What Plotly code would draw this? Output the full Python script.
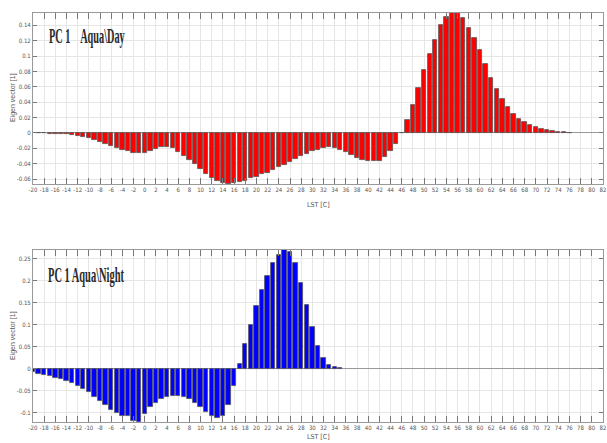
import plotly.graph_objects as go

# ---- Data ----
day_lst = list(range(-19, 77))
day_vals = [
    0.0, -0.0005, -0.001, -0.001, -0.0015, -0.002, -0.003, -0.004, -0.0055, -0.007,   # -19..-10
    -0.009, -0.012, -0.014, -0.017, -0.020, -0.022, -0.024, -0.026, -0.026, -0.026,   # -9..0
    -0.0235, -0.021, -0.019, -0.019, -0.020, -0.025, -0.0295, -0.035, -0.041, -0.047, # 1..10
    -0.053, -0.059, -0.063, -0.065, -0.0665, -0.065, -0.064, -0.062, -0.059, -0.057,  # 11..20
    -0.054, -0.052, -0.048, -0.045, -0.042, -0.0385, -0.034, -0.030, -0.027, -0.024,  # 21..30
    -0.022, -0.020, -0.019, -0.020, -0.0225, -0.0255, -0.029, -0.0325, -0.035, -0.0365, # 31..40
    -0.037, -0.036, -0.032, -0.024, -0.014, 0.0, 0.017, 0.0365, 0.058, 0.082,          # 41..50
    0.103, 0.121, 0.140, 0.151, 0.158, 0.157, 0.150, 0.136, 0.124, 0.108,              # 51..60
    0.089, 0.072, 0.057, 0.044, 0.0335, 0.025, 0.0187, 0.014, 0.010, 0.0074,           # 61..70
    0.0052, 0.0035, 0.002, 0.0013, 0.0009, 0.0004,                                     # 71..76
]

night_lst = list(range(-20, 36))
night_vals = [
    -0.008, -0.011, -0.014, -0.0167, -0.0197, -0.023, -0.0265, -0.031, -0.038, -0.045,  # -20..-11
    -0.053, -0.063, -0.073, -0.083, -0.094, -0.101, -0.106, -0.106, -0.118, -0.122,     # -10..-1
    -0.103, -0.087, -0.077, -0.068, -0.064, -0.061, -0.061, -0.064, -0.069, -0.0765,    # 0..9
    -0.087, -0.098, -0.107, -0.111, -0.106, -0.083, -0.038, 0.0106, 0.056, 0.100,       # 10..19
    0.1417, 0.179, 0.211, 0.240, 0.258, 0.272, 0.266, 0.240, 0.196, 0.144,              # 20..29
    0.0947, 0.052, 0.025, 0.009, 0.004, 0.001,                                          # 30..35
]

x_ticks = list(range(-20, 83, 2))
x_ticktext = [str(v) for v in x_ticks]

day_yticks = [-0.06, -0.04, -0.02, 0, 0.02, 0.04, 0.06, 0.08, 0.1, 0.12, 0.14]
day_yticktext = ["-0.06", "-0.04", "-0.02", "0", "0.02", "0.04", "0.06", "0.08", "0.1", "0.12", "0.14"]
night_yticks = [-0.1, -0.05, 0, 0.05, 0.1, 0.15, 0.2, 0.25]
night_yticktext = ["-0.1", "-0.05", "0", "0.05", "0.1", "0.15", "0.2", "0.25"]

day_title = "PC 1    Aqua\\Day"
night_title = "PC 1 Aqua\\Night"
x_title = "LST [C]"
y_title = "Eigen vector [1]"

W, H = 607, 443

fig = go.Figure()
fig.add_trace(go.Bar(x=day_lst, y=day_vals, width=0.78,
                     marker=dict(color="#FF0000", line=dict(color="#555555", width=0.8)),
                     xaxis="x", yaxis="y", showlegend=False, hoverinfo="skip"))
fig.add_trace(go.Bar(x=night_lst, y=night_vals, width=0.78,
                     marker=dict(color="#0000FF", line=dict(color="#555555", width=0.8)),
                     xaxis="x2", yaxis="y2", showlegend=False, hoverinfo="skip"))

small_font = "Liberation Sans Narrow, DejaVu Sans Condensed, Arial, sans-serif"
tickfont = dict(family=small_font, size=6, color="#555555")
common_x = dict(range=[-20, 82.02], tickmode="array", tickvals=x_ticks, ticktext=x_ticktext,
                tickangle=0, ticks="inside", ticklen=6, tickcolor="#777777", mirror="ticks",
                showline=True, linecolor="#999999", linewidth=1, automargin=False,
                showgrid=True, gridcolor="#E6E6E6", gridwidth=1, zeroline=False,
                tickfont=tickfont)
common_y = dict(ticks="inside", ticklen=4, tickcolor="#777777", mirror="ticks",
                showline=True, linecolor="#999999", linewidth=1, automargin=False,
                showgrid=True, gridcolor="#E6E6E6", gridwidth=1,
                zeroline=True, zerolinecolor="#999999", zerolinewidth=1.2,
                tickfont=tickfont, tickmode="array")

dx0, dx1 = 33 / W, 603 / W
fig.update_layout(
    width=W, height=H, margin=dict(l=0, r=0, t=0, b=0),
    paper_bgcolor="white", plot_bgcolor="white", bargap=0, hovermode=False,
    xaxis=dict(domain=[dx0, dx1], anchor="y", **common_x),
    yaxis=dict(domain=[(H - 184) / H, (H - 13) / H], anchor="x", range=[-0.0665, 0.156],
               tickvals=day_yticks, ticktext=day_yticktext, **common_y),
    xaxis2=dict(domain=[dx0, dx1], anchor="y2", **common_x),
    yaxis2=dict(domain=[(H - 421.7) / H, (H - 250) / H], anchor="x2", range=[-0.12, 0.27],
                tickvals=night_yticks, ticktext=night_yticktext, **common_y),
)

label_font = dict(family=small_font, size=7, color="#555555")
# axis titles
for yc, xc in [((H - 98) / H, (H - 205) / H), ((H - 336) / H, (H - 437) / H)]:
    fig.add_annotation(text=y_title, xref="paper", yref="paper", x=13 / W, y=yc,
                       xanchor="center", yanchor="middle", textangle=-90,
                       showarrow=False, font=dict(family="Liberation Sans, Arial, sans-serif",
                                                  size=7, color="#555555"))
    fig.add_annotation(text=x_title, xref="paper", yref="paper", x=318 / W, y=xc,
                       xanchor="center", yanchor="middle", showarrow=False, font=label_font)

title_font = dict(family="Liberation Serif, serif", size=21, color="#2a2a2a")
fig.add_annotation(text="<b>" + day_title + "</b>", xref="paper", yref="paper",
                   x=47 / W, y=(H - 36) / H, xanchor="left", yanchor="middle",
                   showarrow=False, font=title_font)
fig.add_annotation(text="<b>" + night_title + "</b>", xref="paper", yref="paper",
                   x=46 / W, y=(H - 275) / H, xanchor="left", yanchor="middle",
                   showarrow=False, font=title_font)

# remove page margin; condense the panel titles horizontally (original uses a narrow condensed serif)
post = """
(function(){
  document.documentElement.style.margin = '0';
  document.documentElement.style.padding = '0';
  document.body.style.margin = '0';
  document.body.style.padding = '0';
  document.body.style.overflow = 'hidden';
  function squeeze(){
    var texts = document.querySelectorAll('.annotation-text');
    texts.forEach(function(t){
      if (t.textContent.indexOf('PC 1') !== 0) return;
      t.removeAttribute('transform');
      var bb = t.getBBox();
      var target = 76;
      var s = target / bb.width;
      var x0 = bb.x;
      t.setAttribute('transform', 'translate(' + x0 + ',0) scale(' + s + ',1) translate(' + (-x0) + ',0)');
    });
  }
  squeeze();
  setTimeout(squeeze, 50);
})();
"""

fig.write_html("out.html", post_script=post, config={"displayModeBar": False})
